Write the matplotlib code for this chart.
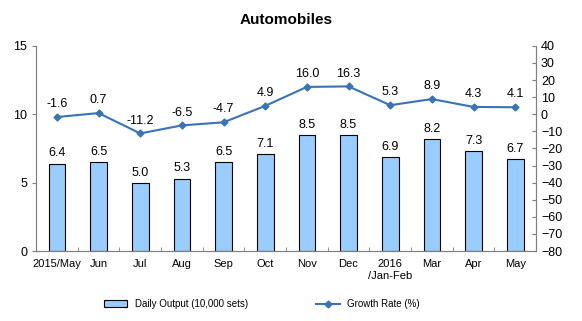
import numpy as np
import matplotlib.pyplot as plt
from matplotlib.ticker import FixedLocator

plt.rcParams['font.family'] = ['Liberation Sans', 'DejaVu Sans']

# ---------------- data ----------------
MESES    = ["2015/May", "Jun", "Jul", "Aug", "Sep", "Oct", "Nov", "Dec",
            "2016\n/Jan-Feb", "Mar", "Apr", "May"]
PRODUCAO = [6.4, 6.5, 5.0, 5.3, 6.5, 7.1, 8.5, 8.5, 6.9, 8.2, 7.3, 6.7]
CRESC    = [-1.6, 0.7, -11.2, -6.5, -4.7, 4.9, 16.0, 16.3, 5.3, 8.9, 4.3, 4.1]

COR_BARRA = "#99CCFF"
COR_LINHA = "#3A73B5"

# ---------------- figure ----------------
fig = plt.figure(figsize=(5.82, 3.21), dpi=100)
ax = fig.add_axes([0.062, 0.218, 0.859, 0.639])
ax2 = ax.twinx()

x = np.arange(len(MESES))
barras = ax.bar(x, PRODUCAO, width=0.4, color=COR_BARRA, edgecolor="black",
                linewidth=0.8, label="Daily Output (10,000 sets)", zorder=2)
for xi, v in zip(x, PRODUCAO):
    ax.text(xi, v + 0.3, f"{v:.1f}", ha="center", va="bottom", fontsize=9)

linha, = ax2.plot(x, CRESC, color=COR_LINHA, lw=1.5, marker="D", ms=3.5,
                  label="Growth Rate (%)", zorder=3)
for xi, v in zip(x, CRESC):
    ax2.text(xi, v + 4, f"{v:.1f}", ha="center", va="bottom", fontsize=9)

ax.set_xlim(-0.5, len(MESES) - 0.5)
ax.set_ylim(0, 15)
ax.set_yticks([0, 5, 10, 15])
ax2.set_ylim(-80, 40)
ax2.set_yticks(np.arange(-80, 41, 10))

ax.set_xticks(x)
ax.set_xticklabels(MESES, fontsize=8)
ax.tick_params(axis="x", which="major", length=0, pad=6)
ax.xaxis.set_minor_locator(FixedLocator(np.arange(-0.5, len(MESES), 1)))
ax.tick_params(axis="x", which="minor", length=3, direction="in", color="#808080")
ax.tick_params(axis="y", labelsize=9, length=3, color="#808080")
ax2.tick_params(axis="y", labelsize=9, length=3, direction="in", color="#808080")

for a in (ax, ax2):
    a.spines["top"].set_visible(False)
    for s in ("left", "right", "bottom"):
        a.spines[s].set_color("#808080")

ax.set_title("Automobiles", fontsize=11, fontweight="bold", pad=16)

fig.legend(handles=[barras, linha], loc="lower center", bbox_to_anchor=(0.45, 0.01),
           ncol=2, frameon=False, fontsize=7, columnspacing=7, handlelength=2.4)

fig.savefig("out.png", dpi=100)
